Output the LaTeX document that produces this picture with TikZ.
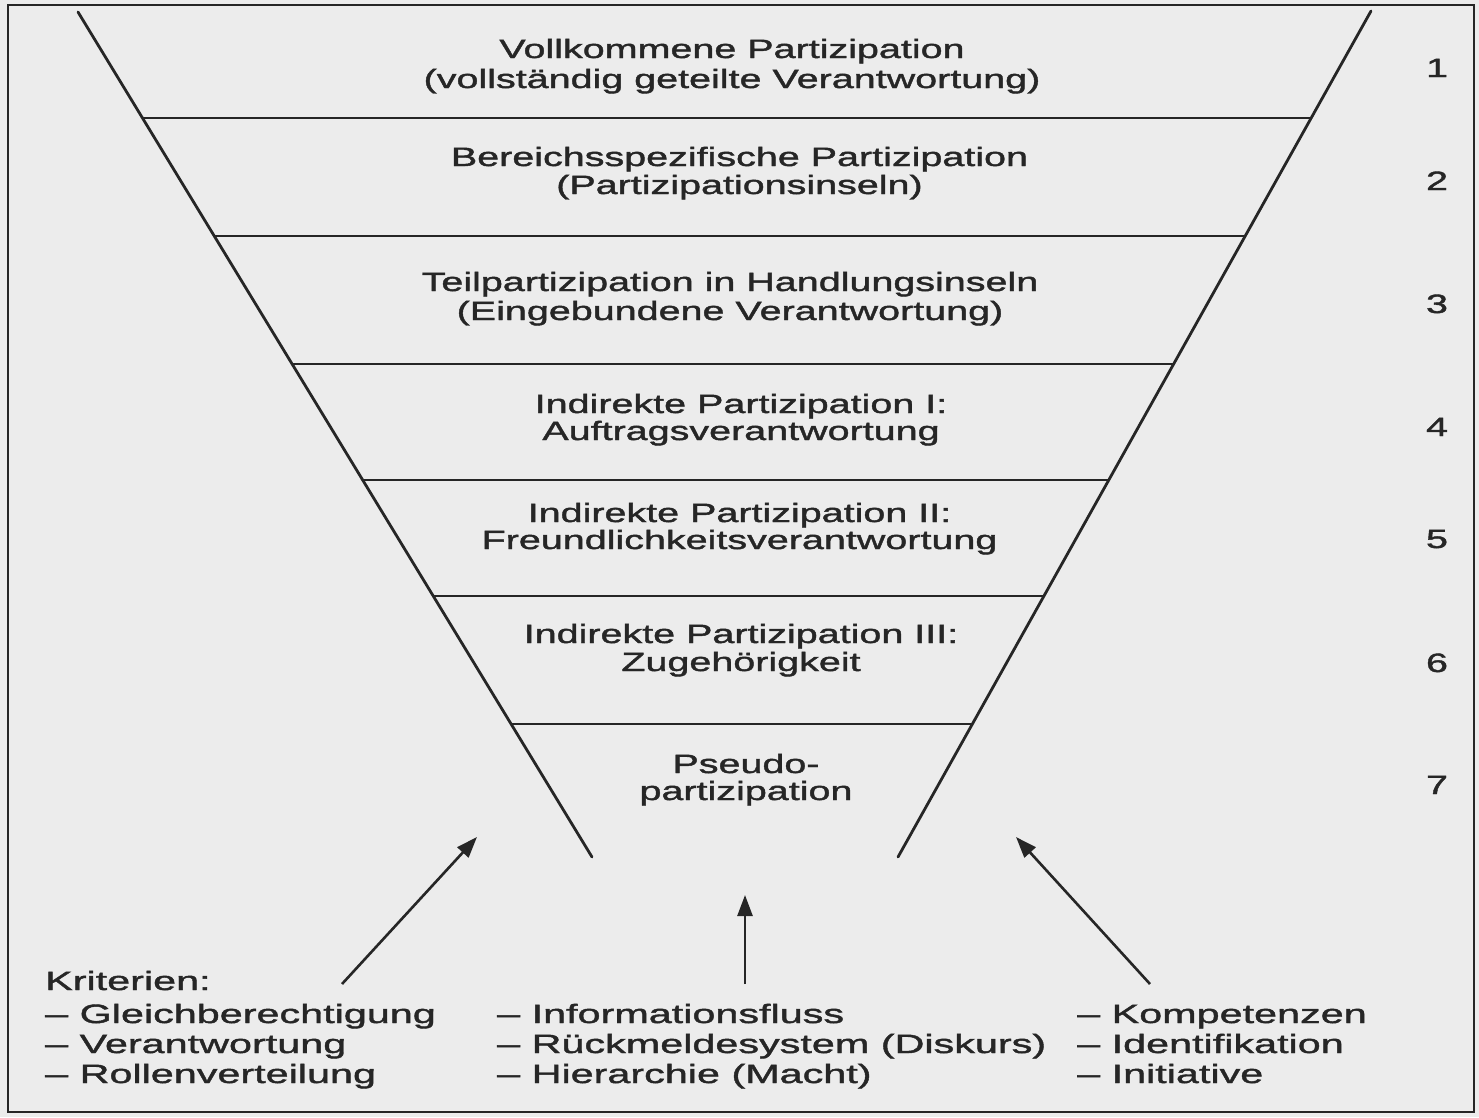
\documentclass[tikz,border=0pt]{standalone}
\usepackage{fontspec}
\setmainfont[FakeStretch=1.49,FakeBold=1.6]{Liberation Sans}
\newfontfamily\critfont[FakeStretch=1.56,FakeBold=1.6]{Liberation Sans}
\usetikzlibrary{arrows.meta}
\definecolor{paper}{RGB}{236,236,236}
\definecolor{ink}{RGB}{38,38,38}
\begin{document}
\begin{tikzpicture}[x=1pt,y=-1pt,
  lbl/.style={anchor=base, inner sep=0pt, text=ink, font=\fontsize{26.5}{30}\selectfont},
  num/.style={lbl},
  crit/.style={anchor=base west, inner sep=0pt, text=ink, font=\critfont\fontsize{26.5}{30}\selectfont},
  frame/.style={draw=ink, line width=2pt},
  funnel/.style={draw=ink, line width=2.8pt, line cap=round},
  level/.style={draw=ink, line width=2.2pt},
  arr/.style={draw=ink, line width=2.6pt, -{Triangle[length=21pt,width=15pt]}}
]
\fill[paper] (0,0) rectangle (1479,1117);
\useasboundingbox (0,0) rectangle (1479,1117);
\draw[frame] (8,5) rectangle (1474,1112);

% funnel sides
\coordinate (lt) at (78,12);
\coordinate (lb) at (592,857);
\coordinate (rt) at (1371,11);
\coordinate (rb) at (898,857);
\draw[funnel] (lt) -- (lb);
\draw[funnel] (rt) -- (rb);

% level separators
\draw[level] (142.5,118) -- (1311.2,118);
\draw[level] (214.3,236) -- (1245.2,236);
\draw[level] (292.1,364) -- (1173.6,364);
\draw[level] (362.7,480) -- (1108.8,480);
\draw[level] (433.2,596) -- (1043.9,596);
\draw[level] (511.1,724) -- (972.4,724);

% level texts
\node[lbl] (t1a) at (732,58) {Vollkommene Partizipation};
\node[lbl] (t1b) at (732,88) {(vollständig geteilte Verantwortung)};
\node[lbl] (t2a) at (739.5,166) {Bereichsspezifische Partizipation};
\node[lbl] (t2b) at (739.5,194) {(Partizipationsinseln)};
\node[lbl] (t3a) at (730,291) {Teilpartizipation in Handlungsinseln};
\node[lbl] (t3b) at (730,320) {(Eingebundene Verantwortung)};
\node[lbl] (t4a) at (741,413) {Indirekte Partizipation I:};
\node[lbl] (t4b) at (741,440) {Auftragsverantwortung};
\node[lbl] (t5a) at (739.5,522) {Indirekte Partizipation II:};
\node[lbl] (t5b) at (739.5,549) {Freundlichkeitsverantwortung};
\node[lbl] (t6a) at (741,643) {Indirekte Partizipation III:};
\node[lbl] (t6b) at (741,671) {Zugehörigkeit};
\node[lbl] (t7a) at (746,773) {Pseudo-};
\node[lbl] (t7b) at (746,800) {partizipation};

% numbers
\node[num] (n1) at (1437,77) {1};
\node[num] (n2) at (1437,190) {2};
\node[num] (n3) at (1437,313) {3};
\node[num] (n4) at (1437,436) {4};
\node[num] (n5) at (1437,548) {5};
\node[num] (n6) at (1437,672) {6};
\node[num] (n7) at (1437,794) {7};

% criteria
\node[crit] (k0) at (45,990) {Kriterien:};
\node[crit] (k1) at (45,1023) {– Gleichberechtigung};
\node[crit] (k2) at (45,1053) {– Verantwortung};
\node[crit] (k3) at (45,1083) {– Rollenverteilung};
\node[crit] (m1) at (497,1023) {– Informationsfluss};
\node[crit] (m2) at (497,1053) {– Rückmeldesystem (Diskurs)};
\node[crit] (m3) at (497,1083) {– Hierarchie (Macht)};
\node[crit] (r1) at (1077,1023) {– Kompetenzen};
\node[crit] (r2) at (1077,1053) {– Identifikation};
\node[crit] (r3) at (1077,1083) {– Initiative};

% arrows
\coordinate (aLt) at (342,984);
\coordinate (aLh) at (477,837);
\coordinate (aMt) at (745,984);
\coordinate (aMh) at (745,895);
\coordinate (aRt) at (1150,984);
\coordinate (aRh) at (1016,837);
\draw[arr] (aLt) -- (aLh);
\draw[arr] (aMt) -- (aMh);
\draw[arr] (aRt) -- (aRh);
\end{tikzpicture}
\end{document}
